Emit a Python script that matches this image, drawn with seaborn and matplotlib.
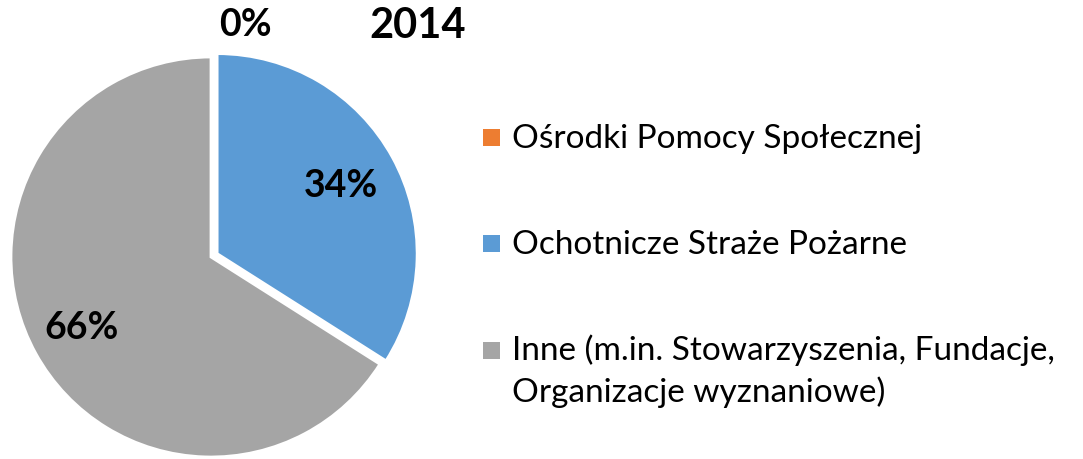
import matplotlib
matplotlib.use("Agg")
import matplotlib.pyplot as plt
from matplotlib.patches import Rectangle
import seaborn as sns
import numpy as np

# data
categories = [
    "Ośrodki Pomocy Społecznej",
    "Ochotnicze Straże Pożarne",
    "Inne (m.in. Stowarzyszenia, Fundacje,\nOrganizacje wyznaniowe)",
]
values = [0, 34, 66]
pct_labels = ["0%", "34%", "66%"]
colors = ["#ED7D31", "#5B9BD5", "#A5A5A5"]
title = "2014"

sns.set_theme(style="white")
plt.rcParams["font.family"] = ["Lato", "DejaVu Sans"]

fig = plt.figure(figsize=(10.83, 4.59), dpi=100)
W, H = 1083, 459
cx, cy, r = 211, 257, 200
ax = fig.add_axes([(cx - r) / W, (H - cy - r) / H, 2 * r / W, 2 * r / H])

wedges, _ = ax.pie(
    values,
    colors=colors,
    startangle=90,
    counterclock=False,
    explode=[0, 0.035, 0],
    wedgeprops=dict(edgecolor="white", linewidth=2),
)
ax.set_xlim(-1, 1)
ax.set_ylim(-1, 1)
ax.set_aspect("equal")
ax.axis("off")

# percentage labels at wedge middles
for w, lab, v in zip(wedges, pct_labels, values):
    ang = np.deg2rad((w.theta1 + w.theta2) / 2)
    if v == 0:
        x, y = 0.17, 1.16
    else:
        x, y = 0.74 * np.cos(ang), 0.74 * np.sin(ang)
    ax.text(x, y, lab, ha="center", va="center", fontsize=27,
            fontweight="bold", color="black", clip_on=False)

fig.text(418 / W, 1 - 26 / H, title, ha="center", va="center",
         fontsize=30, fontweight="bold", color="black")

# legend drawn by hand so the marker sits on the first line
row_y = [137, 243, 350]
line_gap = 42
for cat, col, yc in zip(categories, colors, row_y):
    fig.add_artist(Rectangle((483 / W, 1 - (yc + 8.5) / H), 17 / W, 17 / H,
                             transform=fig.transFigure, facecolor=col,
                             edgecolor="none"))
    for i, line in enumerate(cat.split("\n")):
        fig.text(512 / W, 1 - (yc + 10.5 + i * line_gap) / H, line,
                 ha="left", va="baseline", fontsize=24, color="black")

fig.savefig("out.png", dpi=100, facecolor="white")
